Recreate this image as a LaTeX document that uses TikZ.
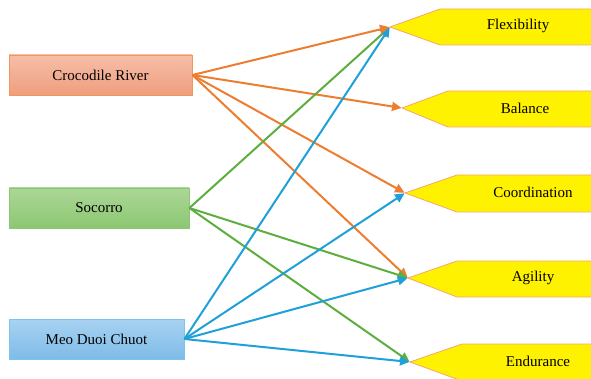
\documentclass[tikz,border=0pt]{standalone}
\usepackage{fontspec}
\setmainfont{Liberation Serif}
\usetikzlibrary{arrows.meta}
\definecolor{corange}{HTML}{ED7D31}
\definecolor{cgreen}{HTML}{5DAE3E}
\definecolor{cblue}{HTML}{1FA0D8}
\definecolor{pentborder}{HTML}{F4A66E}
\tikzset{
  srcbox/.style={draw, line width=0.8pt, minimum height=40pt, inner sep=0pt, font=\fontsize{15}{17}\selectfont},
  pent/.style={fill=yellow, draw=pentborder, line width=0.8pt},
  plabel/.style={font=\fontsize{15}{17}\selectfont, inner sep=0pt},
  conn/.style={line width=2pt, -{Triangle[length=9.5pt,width=9pt]}, shorten >=0.5pt},
}
\begin{document}
\begin{tikzpicture}[x=1pt,y=-1pt]
\useasboundingbox (0,0) rectangle (591,379);
% source boxes
\node[srcbox, minimum width=183pt, draw=corange!80, top color={rgb,255:red,246;green,190;blue,168}, bottom color={rgb,255:red,239;green,158;blue,126}] (croc) at (100.5,75) {Crocodile River};
\node[srcbox, minimum width=180pt, draw=cgreen!70, top color={rgb,255:red,172;green,215;blue,150}, bottom color={rgb,255:red,140;green,199;blue,114}] (soc) at (99,208) {Socorro};
\node[srcbox, minimum width=175pt, draw=cblue!60, top color={rgb,255:red,168;green,210;blue,242}, bottom color={rgb,255:red,126;green,188;blue,232}] (meo) at (96.5,339) {Meo Duoi Chuot};
% target pentagons
\draw[pent] (390,27) -- (440,9) -- (595,9) -- (595,45) -- (440,45) -- cycle;
\coordinate (flex) at (390,27);
\node[plabel] (flexl) at (518,26) {Flexibility};
\draw[pent] (402,108) -- (448,91) -- (595,91) -- (595,127) -- (448,127) -- cycle;
\coordinate (bal) at (402,108);
\node[plabel] (ball) at (525,108) {Balance};
\draw[pent] (405,193) -- (457,175) -- (595,175) -- (595,212) -- (457,212) -- cycle;
\coordinate (coord) at (405,193);
\node[plabel] (coordl) at (533,192) {Coordination};
\draw[pent] (408,278) -- (457,261) -- (595,261) -- (595,297) -- (457,297) -- cycle;
\coordinate (agi) at (408,278);
\node[plabel] (agil) at (533,278) {Agility};
\draw[pent] (410,362) -- (462,344) -- (595,344) -- (595,381) -- (462,381) -- cycle;
\coordinate (end) at (410,362);
\node[plabel] (endl) at (538,361) {Endurance};
% connectors
\draw[conn, corange] (croc.east) -- (bal);
\draw[conn, corange] (croc.east) -- (coord);
\draw[conn, corange] (croc.east) -- (agi);
\draw[conn, cgreen] (soc.east) -- (flex);
\draw[conn, cgreen] (soc.east) -- (agi);
\draw[conn, cgreen] (soc.east) -- (end);
\draw[conn, cblue] (meo.east) -- (flex);
\draw[conn, cblue] (meo.east) -- (coord);
\draw[conn, cblue] (meo.east) -- (agi);
\draw[conn, cblue] (meo.east) -- (end);
\draw[conn, corange] (croc.east) -- (flex);
\end{tikzpicture}
\end{document}
